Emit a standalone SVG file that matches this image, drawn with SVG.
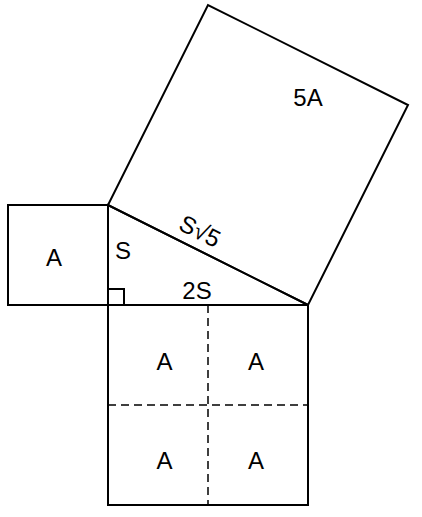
<svg xmlns="http://www.w3.org/2000/svg" width="422" height="517" viewBox="0 0 422 517">
<style>
.s{fill:none;stroke:#000;stroke-width:2;stroke-linejoin:miter}
.d{fill:none;stroke:#000;stroke-width:1.5;stroke-dasharray:8,5}
text{font-family:"Liberation Sans",Arial,sans-serif;font-size:24px;fill:#000;text-anchor:middle;dominant-baseline:central}
</style>
<rect width="422" height="517" fill="#fff"/>
<g id="hyp-square"><polygon class="s" points="108,205 308,305 408,105 208,5"/><text x="308" y="97">5A</text></g>
<g id="small-square"><rect class="s" x="8" y="205" width="100" height="100"/><text x="54" y="257">A</text></g>
<g id="big-square"><rect class="s" x="108" y="305" width="200" height="200"/>
<text x="164.5" y="361">A</text><text x="256" y="361">A</text><text x="164.5" y="460">A</text><text x="256" y="460">A</text></g>
<g id="connectors">
<line class="d" x1="208" y1="305" x2="208" y2="505"/>
<line class="d" x1="108" y1="405" x2="308" y2="405"/>
<polyline class="s" points="108,289 124,289 124,305"/>
</g>
<g id="triangle"><polygon class="s" points="108,205 108,305 308,305"/>
<text x="123" y="250">S</text><text x="197" y="290">2S</text>
<text x="0" y="0" transform="translate(200,231) rotate(26.57)">S√5</text></g>
</svg>
